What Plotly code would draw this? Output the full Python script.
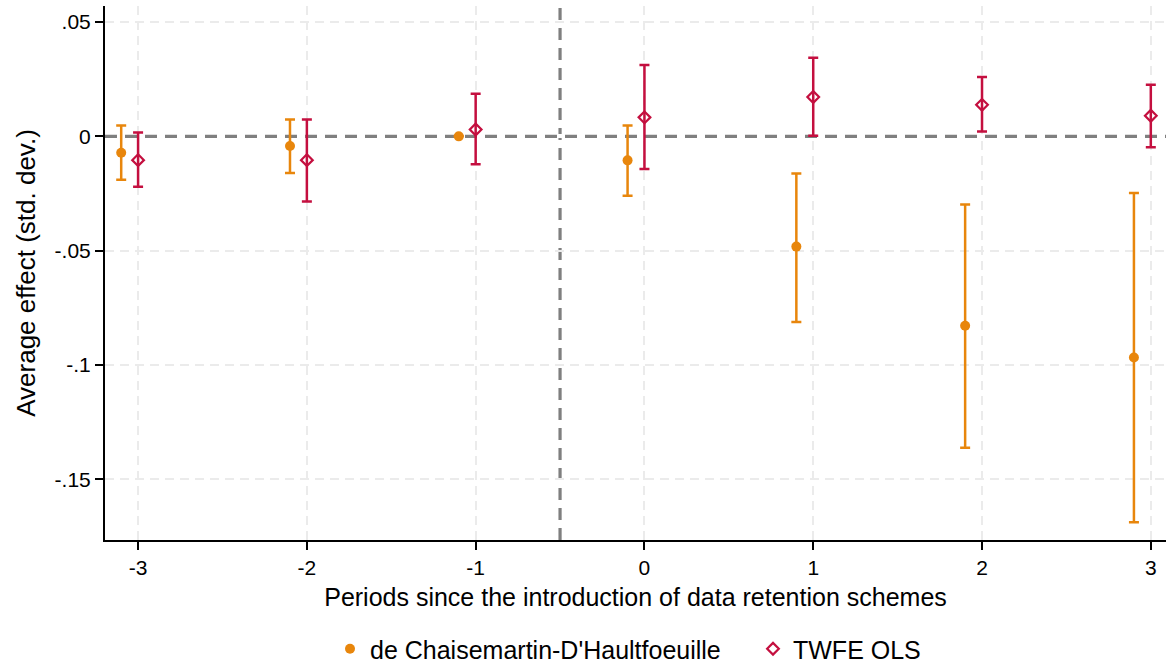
import plotly.graph_objects as go

periods = [-3, -2, -1, 0, 1, 2, 3]

dcdh_x = [-3.1, -2.1, -1.1, -0.1, 0.9, 1.9, 2.9]
dcdh_y = [-0.0072, -0.0042, 0.0, -0.0105, -0.0482, -0.0828, -0.0967]
dcdh_lo = [-0.019, -0.016, None, -0.026, -0.0812, -0.1362, -0.1687]
dcdh_hi = [0.0048, 0.0074, None, 0.0048, -0.0162, -0.0298, -0.0248]

twfe_x = periods
twfe_y = [-0.0104, -0.0104, 0.003, 0.0083, 0.0172, 0.0138, 0.0090]
twfe_lo = [-0.022, -0.0285, -0.0122, -0.0143, 0.0003, 0.0021, -0.0048]
twfe_hi = [0.0017, 0.0074, 0.0186, 0.0312, 0.0344, 0.0260, 0.0226]

ytick_vals = [-0.15, -0.1, -0.05, 0, 0.05]
ytick_text = ["-.15", "-.1", "-.05", "0", ".05"]

X_RANGE = [-3.196, 3.09]
Y_RANGE = [-0.1765, 0.057]

ORANGE = "#E8860C"
CRIMSON = "#C40F3F"
FONT = "Liberation Sans, Arial"

def err(y, lo, hi):
    plus = [0 if h is None else h - v for v, h in zip(y, hi)]
    minus = [0 if l is None else v - l for v, l in zip(y, lo)]
    return plus, minus

dp, dm = err(dcdh_y, dcdh_lo, dcdh_hi)
tp, tm = err(twfe_y, twfe_lo, twfe_hi)

fig = go.Figure()
# horizontal reference line at zero (drawn first so markers sit on top)
fig.add_trace(go.Scatter(
    x=X_RANGE, y=[0, 0], mode="lines", showlegend=False, hoverinfo="skip",
    line=dict(color="#7F7F7F", width=3.2, dash="12px,8px"),
))
fig.add_trace(go.Scatter(
    x=dcdh_x, y=dcdh_y, mode="markers", name="de Chaisemartin-D'Haultfoeuille",
    marker=dict(symbol="circle", size=10, color=ORANGE),
    error_y=dict(type="data", symmetric=False, array=dp, arrayminus=dm,
                 color=ORANGE, thickness=2.5, width=5),
    legend="legend",
))
fig.add_trace(go.Scatter(
    x=twfe_x, y=twfe_y, mode="markers", name="TWFE OLS",
    marker=dict(symbol="diamond-open", size=9, color=CRIMSON, line=dict(width=2.2, color=CRIMSON)),
    error_y=dict(type="data", symmetric=False, array=tp, arrayminus=tm,
                 color=CRIMSON, thickness=2.5, width=5),
    legend="legend2",
))

fig.add_shape(type="line", xref="x", yref="paper", x0=-0.5, x1=-0.5, y0=0, y1=1,
              line=dict(color="#7F7F7F", width=3.2, dash="12px,8px"), layer="between")

PW = 1061.0
PH = 534.0
leg_common = dict(orientation="h", yanchor="middle", y=-(649 - 540) / PH,
                  font=dict(size=25), itemwidth=30, bgcolor="rgba(0,0,0,0)",
                  xanchor="left")

fig.update_layout(
    width=1166, height=663,
    paper_bgcolor="white", plot_bgcolor="white",
    margin=dict(l=105, r=0, t=6, b=123, autoexpand=False),
    font=dict(family=FONT, size=21, color="black"),
    showlegend=True,
    legend=dict(x=(330 - 105) / PW, **leg_common),
    legend2=dict(x=(753 - 105) / PW, **leg_common),
)
fig.update_xaxes(
    range=X_RANGE, tickvals=periods, ticktext=[str(p) for p in periods],
    showline=True, linecolor="black", linewidth=2,
    ticks="outside", ticklen=8, tickwidth=2, tickcolor="black",
    showgrid=True, gridcolor="#EBEBEB", gridwidth=2, griddash="9px,6px",
    zeroline=False, automargin=False,
    title=dict(text="Periods since the introduction of data retention schemes",
               font=dict(size=25), standoff=10),
)
fig.update_yaxes(
    range=Y_RANGE, tickvals=ytick_vals, ticktext=ytick_text,
    showline=True, linecolor="black", linewidth=2,
    ticks="outside", ticklen=8, tickwidth=2, tickcolor="black",
    showgrid=True, gridcolor="#EBEBEB", gridwidth=2, griddash="9px,6px",
    zeroline=True, zerolinecolor="white", zerolinewidth=4, automargin=False,
    title=dict(text="Average effect (std. dev.)", font=dict(size=26), standoff=12),
)

fig.write_html("out.html", config={"displayModeBar": False},
               post_script="document.body.style.margin='0';")
